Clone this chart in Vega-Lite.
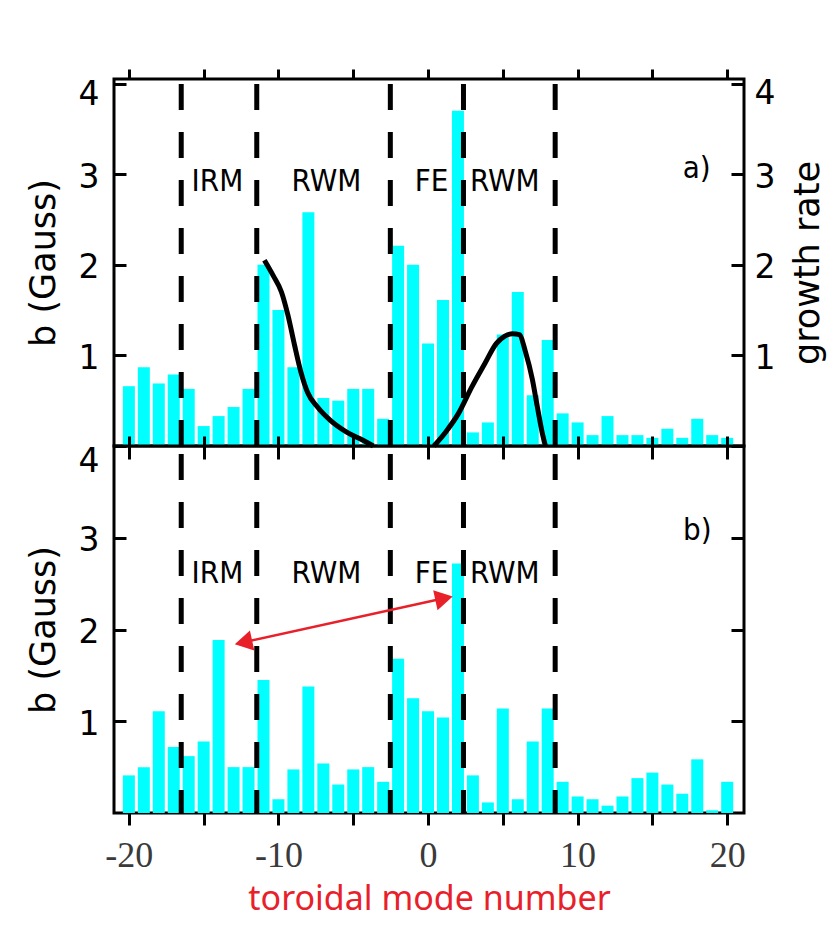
{
  "$schema": "https://vega.github.io/schema/vega-lite/v6.json",
  "background": "white",
  "padding": {"left": 24, "top": 66, "right": 5, "bottom": 5},
  "bounds": "flush",
  "spacing": 0,
  "config": {
    "view": {"stroke": "black", "strokeWidth": 3},
    "axis": {"domain": false, "grid": false, "tickColor": "black", "tickWidth": 3, "labelColor": "black", "titleColor": "black", "labelFont": "DejaVu Sans", "titleFont": "DejaVu Sans", "titleFontWeight": "normal", "labelFontSize": 33, "titleFontSize": 35, "labelFlush": false, "labelOverlap": false}
  },
  "datasets": {
    "topBars": [
      {"n": -20, "b": 0.66}, {"n": -19, "b": 0.87}, {"n": -18, "b": 0.69}, {"n": -17, "b": 0.79}, {"n": -16, "b": 0.63},
      {"n": -15, "b": 0.22}, {"n": -14, "b": 0.33}, {"n": -13, "b": 0.43}, {"n": -12, "b": 0.63}, {"n": -11, "b": 2.0},
      {"n": -10, "b": 1.5}, {"n": -9, "b": 0.87}, {"n": -8, "b": 2.58}, {"n": -7, "b": 0.53}, {"n": -6, "b": 0.5},
      {"n": -5, "b": 0.63}, {"n": -4, "b": 0.63}, {"n": -3, "b": 0.3}, {"n": -2, "b": 2.21}, {"n": -1, "b": 2.0},
      {"n": 0, "b": 1.13}, {"n": 1, "b": 1.61}, {"n": 2, "b": 3.7}, {"n": 3, "b": 0.15}, {"n": 4, "b": 0.26},
      {"n": 5, "b": 1.23}, {"n": 6, "b": 1.7}, {"n": 7, "b": 0.56}, {"n": 8, "b": 1.17}, {"n": 9, "b": 0.36},
      {"n": 10, "b": 0.26}, {"n": 11, "b": 0.12}, {"n": 12, "b": 0.33}, {"n": 13, "b": 0.12}, {"n": 14, "b": 0.12},
      {"n": 15, "b": 0.09}, {"n": 16, "b": 0.19}, {"n": 17, "b": 0.09}, {"n": 18, "b": 0.3}, {"n": 19, "b": 0.12},
      {"n": 20, "b": 0.09}
    ],
    "bottomBars": [
      {"n": -20, "b": 0.41}, {"n": -19, "b": 0.5}, {"n": -18, "b": 1.11}, {"n": -17, "b": 0.72}, {"n": -16, "b": 0.62},
      {"n": -15, "b": 0.78}, {"n": -14, "b": 1.885}, {"n": -13, "b": 0.5}, {"n": -12, "b": 0.5}, {"n": -11, "b": 1.45},
      {"n": -10, "b": 0.15}, {"n": -9, "b": 0.475}, {"n": -8, "b": 1.38}, {"n": -7, "b": 0.54}, {"n": -6, "b": 0.31},
      {"n": -5, "b": 0.475}, {"n": -4, "b": 0.5}, {"n": -3, "b": 0.34}, {"n": -2, "b": 1.68}, {"n": -1, "b": 1.25},
      {"n": 0, "b": 1.11}, {"n": 1, "b": 1.04}, {"n": 2, "b": 2.72}, {"n": 3, "b": 0.41}, {"n": 4, "b": 0.115},
      {"n": 5, "b": 1.14}, {"n": 6, "b": 0.15}, {"n": 7, "b": 0.78}, {"n": 8, "b": 1.14}, {"n": 9, "b": 0.34},
      {"n": 10, "b": 0.18}, {"n": 11, "b": 0.15}, {"n": 12, "b": 0.08}, {"n": 13, "b": 0.18}, {"n": 14, "b": 0.38},
      {"n": 15, "b": 0.44}, {"n": 16, "b": 0.31}, {"n": 17, "b": 0.21}, {"n": 18, "b": 0.585}, {"n": 19, "b": 0.03},
      {"n": 20, "b": 0.34}
    ],
    "boundaries": [{"n": -16.5}, {"n": -11.45}, {"n": -2.52}, {"n": 2.37}, {"n": 8.5}],
    "curves": [
      {"c": "A", "n": -10.94, "g": 2.05}, {"c": "A", "n": -10.35, "g": 1.88}, {"c": "A", "n": -9.8, "g": 1.7},
      {"c": "A", "n": -9.36, "g": 1.44}, {"c": "A", "n": -8.92, "g": 1.11}, {"c": "A", "n": -8.49, "g": 0.81},
      {"c": "A", "n": -8.05, "g": 0.59}, {"c": "A", "n": -7.39, "g": 0.43}, {"c": "A", "n": -6.51, "g": 0.28},
      {"c": "A", "n": -5.41, "g": 0.15}, {"c": "A", "n": -4.32, "g": 0.06}, {"c": "A", "n": -3.66, "g": 0.0},
      {"c": "B", "n": 0.39, "g": 0.0}, {"c": "B", "n": 1.16, "g": 0.15}, {"c": "B", "n": 2.04, "g": 0.36},
      {"c": "B", "n": 2.92, "g": 0.65}, {"c": "B", "n": 3.8, "g": 0.91}, {"c": "B", "n": 4.56, "g": 1.13},
      {"c": "B", "n": 5.11, "g": 1.21}, {"c": "B", "n": 5.66, "g": 1.24}, {"c": "B", "n": 6.1, "g": 1.23},
      {"c": "B", "n": 6.53, "g": 1.03}, {"c": "B", "n": 6.97, "g": 0.74}, {"c": "B", "n": 7.3, "g": 0.44},
      {"c": "B", "n": 7.63, "g": 0.15}, {"c": "B", "n": 7.85, "g": 0.0}
    ],
    "topText": [
      {"n": -14.08, "v": 2.91, "t": "IRM"}, {"n": -6.79, "v": 2.91, "t": "RWM"},
      {"n": 0.23, "v": 2.91, "t": "FE"}, {"n": 5.13, "v": 2.91, "t": "RWM"},
      {"n": 17.96, "v": 3.06, "t": "a)"}
    ],
    "bottomText": [
      {"n": -14.08, "v": 2.61, "t": "IRM"}, {"n": -6.79, "v": 2.61, "t": "RWM"},
      {"n": 0.23, "v": 2.61, "t": "FE"}, {"n": 5.13, "v": 2.61, "t": "RWM"},
      {"n": 18.0, "v": 3.07, "t": "b)"}
    ],
    "arrow": [{"n": -12.34, "v": 1.86, "n2": 1.07, "v2": 2.34}],
    "heads": [{"end": "left", "n": -12.34, "v": 1.86}, {"end": "right", "n": 1.07, "v": 2.34}]
  },
  "vconcat": [
    {
      "width": 630,
      "height": 367,
      "layer": [
        {
          "data": {"name": "topBars"},
          "mark": {"type": "bar", "color": "#00FFFF", "size": 12, "orient": "vertical"},
          "encoding": {
            "x": {"field": "n", "type": "quantitative", "scale": {"domain": [-20.66, 20.79], "nice": false, "zero": false},
                  "axis": {"orient": "top", "values": [-20, -15, -10, -5, 0, 5, 10, 15, 20], "labels": false, "tickSize": 10, "title": null}},
            "y": {"field": "b", "type": "quantitative", "scale": {"domain": [0, 4.05], "nice": false},
                  "axis": {"orient": "left", "values": [1, 2, 3, 4], "tickSize": -12, "labelPadding": 27,
                           "labelOffset": {"condition": {"test": "datum.value === 4", "value": 11}, "value": 3},
                           "title": "b (Gauss)", "titlePadding": 17}}
          }
        },
        {
          "data": {"name": "boundaries"},
          "mark": {"type": "rule", "color": "black", "strokeWidth": 5, "strokeDash": [26, 22], "strokeDashOffset": 43},
          "encoding": {
            "x": {"field": "n", "type": "quantitative", "scale": {"domain": [-20.66, 20.79], "nice": false, "zero": false},
                  "axis": {"orient": "bottom", "values": [-20, -15, -10, -5, 0, 5, 10, 15, 20], "labels": false, "tickSize": 13, "title": null}}
          }
        },
        {
          "data": {"name": "curves"},
          "mark": {"type": "line", "color": "black", "strokeWidth": 5, "interpolate": "monotone"},
          "encoding": {
            "x": {"field": "n", "type": "quantitative", "scale": {"domain": [-20.66, 20.79], "nice": false, "zero": false}, "axis": null},
            "y": {"field": "g", "type": "quantitative", "scale": {"domain": [0, 4.05], "nice": false},
                  "axis": {"orient": "right", "values": [1, 2, 3, 4], "tickSize": -13, "labelPadding": 23,
                           "labelOffset": {"condition": {"test": "datum.value === 4", "value": 10}, "value": 3},
                           "title": "growth rate", "titleAngle": 270, "titleBaseline": "top", "titlePadding": 16}},
            "detail": {"field": "c"}
          }
        },
        {
          "data": {"name": "topText"},
          "mark": {"type": "text", "font": "Liberation Sans Narrow, DejaVu Sans Condensed, sans-serif", "fontSize": 31, "color": "black", "baseline": "middle", "align": "center"},
          "encoding": {
            "x": {"field": "n", "type": "quantitative", "scale": {"domain": [-20.66, 20.79], "nice": false, "zero": false}, "axis": null},
            "y": {"field": "v", "type": "quantitative", "scale": {"domain": [0, 4.05], "nice": false}, "axis": null},
            "text": {"field": "t"}
          }
        }
      ],
      "resolve": {"axis": {"x": "independent", "y": "independent"}}
    },
    {
      "width": 630,
      "height": 367,
      "layer": [
        {
          "data": {"name": "bottomBars"},
          "mark": {"type": "bar", "color": "#00FFFF", "size": 12, "orient": "vertical"},
          "encoding": {
            "x": {"field": "n", "type": "quantitative", "scale": {"domain": [-20.66, 20.79], "nice": false, "zero": false},
                  "axis": {"orient": "bottom", "values": [-20, -15, -10, -5, 0, 5, 10, 15, 20], "tickSize": 12,
                           "labelExpr": "datum.value % 10 === 0 ? '' + datum.value : ''",
                           "labelFont": "Liberation Serif", "labelFontSize": 36, "labelColor": "#3a3a3a", "labelPadding": 13,
                           "title": "toroidal mode number", "titleFont": "Noto Sans", "titleFontSize": 34, "titleColor": "#E8202A", "titlePadding": 9}},
            "y": {"field": "b", "type": "quantitative", "scale": {"domain": [0, 4.0], "nice": false},
                  "axis": {"orient": "left", "values": [1, 2, 3, 4], "tickSize": -12, "labelPadding": 27,
                           "labelOffset": {"condition": {"test": "datum.value === 4", "value": 15}, "value": 3},
                           "title": "b (Gauss)", "titlePadding": 17}}
          }
        },
        {
          "data": {"name": "boundaries"},
          "mark": {"type": "rule", "color": "black", "strokeWidth": 5, "strokeDash": [26, 22], "strokeDashOffset": 40},
          "encoding": {
            "x": {"field": "n", "type": "quantitative", "scale": {"domain": [-20.66, 20.79], "nice": false, "zero": false},
                  "axis": {"orient": "top", "values": [-20, -15, -10, -5, 0, 5, 10, 15, 20], "labels": false, "tickSize": 10, "title": null}}
          }
        },
        {
          "data": {"name": "arrow"},
          "mark": {"type": "rule", "color": "#E8202A", "strokeWidth": 2.5},
          "encoding": {
            "x": {"field": "n", "type": "quantitative", "scale": {"domain": [-20.66, 20.79], "nice": false, "zero": false}, "axis": null},
            "x2": {"field": "n2"},
            "y": {"field": "v", "type": "quantitative", "scale": {"domain": [0, 4.0], "nice": false},
                  "axis": {"orient": "right", "values": [1, 2, 3, 4], "tickSize": -13, "labels": false, "title": null}},
            "y2": {"field": "v2"}
          }
        },
        {
          "data": {"name": "heads"},
          "mark": {"type": "point", "filled": true, "color": "#E8202A", "opacity": 1, "size": 420, "angle": -12.2},
          "encoding": {
            "x": {"field": "n", "type": "quantitative", "scale": {"domain": [-20.66, 20.79], "nice": false, "zero": false}, "axis": null},
            "y": {"field": "v", "type": "quantitative", "scale": {"domain": [0, 4.0], "nice": false}, "axis": null},
            "shape": {"field": "end", "type": "nominal", "scale": {"domain": ["left", "right"], "range": ["triangle-left", "triangle-right"]}, "legend": null}
          }
        },
        {
          "data": {"name": "bottomText"},
          "mark": {"type": "text", "font": "Liberation Sans Narrow, DejaVu Sans Condensed, sans-serif", "fontSize": 31, "color": "black", "baseline": "middle", "align": "center"},
          "encoding": {
            "x": {"field": "n", "type": "quantitative", "scale": {"domain": [-20.66, 20.79], "nice": false, "zero": false}, "axis": null},
            "y": {"field": "v", "type": "quantitative", "scale": {"domain": [0, 4.0], "nice": false}, "axis": null},
            "text": {"field": "t"}
          }
        }
      ],
      "resolve": {"axis": {"x": "independent", "y": "independent"}}
    }
  ]
}
